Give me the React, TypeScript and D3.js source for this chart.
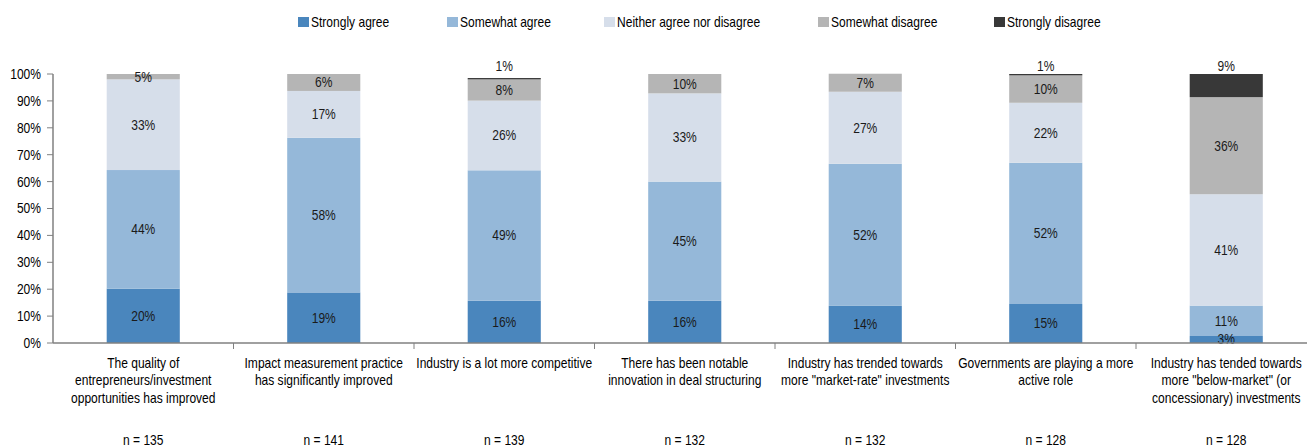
import React from "react";
import * as d3 from "d3";

const categories = [
  ["The quality of", "entrepreneurs/investment", "opportunities has improved"],
  ["Impact measurement practice", "has significantly improved"],
  ["Industry is a lot more competitive"],
  ["There has been notable", "innovation in deal structuring"],
  ["Industry has trended towards", "more \"market-rate\" investments"],
  ["Governments are playing a more", "active role"],
  ["Industry has tended towards", "more \"below-market\" (or", "concessionary) investments"],
];
const sampleSizes = ["n = 135", "n = 141", "n = 139", "n = 132", "n = 132", "n = 128", "n = 128"];

const seriesNames = ["Strongly agree", "Somewhat agree", "Neither agree nor disagree", "Somewhat disagree", "Strongly disagree"];
const seriesColors = ["#4A86BD", "#95B8D9", "#D6DEEA", "#B5B5B5", "#383838"];

const stronglyAgree = [20.2, 18.8, 15.7, 15.7, 13.8, 14.5, 2.6];
const somewhatAgree = [44.1, 57.5, 48.5, 44.3, 52.8, 52.5, 11.3];
const neither = [33.7, 17.4, 25.9, 32.8, 26.8, 22.3, 41.4];
const somewhatDisagree = [2.0, 6.3, 7.9, 7.2, 6.7, 10.2, 36.1];
const stronglyDisagree = [0, 0, 0.5, 0, 0, 0.5, 8.6];

const stronglyAgreeLabels = ["20%", "19%", "16%", "16%", "14%", "15%", "3%"];
const somewhatAgreeLabels = ["44%", "58%", "49%", "45%", "52%", "52%", "11%"];
const neitherLabels = ["33%", "17%", "26%", "33%", "27%", "22%", "41%"];
const somewhatDisagreeLabels = ["5%", "6%", "8%", "10%", "7%", "10%", "36%"];
const stronglyDisagreeLabels = ["", "", "1%", "", "", "1%", "9%"];

const yTicks = [0, 10, 20, 30, 40, 50, 60, 70, 80, 90, 100];

const series = [stronglyAgree, somewhatAgree, neither, somewhatDisagree, stronglyDisagree];
const seriesLabels = [stronglyAgreeLabels, somewhatAgreeLabels, neitherLabels, somewhatDisagreeLabels, stronglyDisagreeLabels];

const W = 1307;
const H = 447;
const FONT = "'Liberation Sans', Arial, sans-serif";
const FS = 14;
const SX = 0.86;
const legendX = [298, 447, 604, 818, 994];

function Txt({ x, y, anchor = "start", fill = "#000", children }: { x: number; y: number; anchor?: string; fill?: string; children: React.ReactNode }) {
  return (
    <text transform={`translate(${x},${y}) scale(${SX},1)`} dy="0.35em" textAnchor={anchor} fontSize={FS} fill={fill}>
      {children}
    </text>
  );
}

export default function App() {
  const left = 53;
  const catW = 180.5;
  const x = d3
    .scaleBand<number>()
    .domain(d3.range(categories.length))
    .range([left, left + catW * categories.length])
    .padding(0);
  const y = d3.scaleLinear().domain([0, 100]).range([343, 74]);
  const barW = x.bandwidth() * 0.405;

  const stackData = categories.map((_, i) => {
    const o: Record<string, number> = {};
    seriesNames.forEach((s, k) => (o[s] = series[k][i]));
    return o;
  });
  const stacked = d3.stack<Record<string, number>>().keys(seriesNames)(stackData);

  const axisColor = "#808080";
  return (
    <svg width={W} height={H} style={{ display: "block", position: "absolute", left: 0, top: 0 }} fontFamily={FONT}>
      <rect width={W} height={H} fill="#fff" />
      {seriesNames.map((s, k) => (
        <g key={s}>
          <rect x={legendX[k]} y={17} width={11} height={10} fill={seriesColors[k]} />
          <Txt x={legendX[k] + 13} y={22}>{s}</Txt>
        </g>
      ))}
      {stacked.map((layer, k) =>
        layer.map((d, i) => {
          const x0 = (x(i) as number) + (x.bandwidth() - barW) / 2;
          const h = y(d[0]) - y(d[1]);
          return h > 0 ? (
            <rect key={`${k}-${i}`} x={x0} y={y(d[1])} width={barW} height={h} fill={seriesColors[k]} />
          ) : null;
        })
      )}
      {stacked.map((layer, k) =>
        layer.map((d, i) => {
          const lbl = seriesLabels[k][i];
          if (!lbl) return null;
          const cx = (x(i) as number) + x.bandwidth() / 2;
          const cy = k === 4 ? y(100) - 8 : (y(d[0]) + y(d[1])) / 2;
          return (
            <Txt key={`l${k}-${i}`} x={cx} y={cy} anchor="middle" fill="#1a1a1a">
              {lbl}
            </Txt>
          );
        })
      )}
      <line x1={left} x2={left} y1={y(100)} y2={y(0)} stroke={axisColor} strokeWidth={1.5} />
      {yTicks.map((t) => (
        <g key={t}>
          <line x1={left - 6} x2={left} y1={y(t)} y2={y(t)} stroke={axisColor} strokeWidth={1} />
          <Txt x={41} y={y(t)} anchor="end">{`${t}%`}</Txt>
        </g>
      ))}
      <line x1={left} x2={W} y1={y(0)} y2={y(0)} stroke={axisColor} strokeWidth={1.5} />
      {categories.map((_, i) =>
        i > 0 ? (
          <line key={`t${i}`} x1={x(i) as number} x2={x(i) as number} y1={y(0)} y2={y(0) + 6} stroke={axisColor} strokeWidth={1} />
        ) : null
      )}
      {categories.map((lines, i) => {
        const cx = (x(i) as number) + x.bandwidth() / 2;
        return (
          <g key={`c${i}`}>
            {lines.map((ln, j) => (
              <Txt key={j} x={cx} y={363 + j * 17.5} anchor="middle">
                {ln}
              </Txt>
            ))}
            <Txt x={cx} y={440} anchor="middle">
              {sampleSizes[i]}
            </Txt>
          </g>
        );
      })}
    </svg>
  );
}
